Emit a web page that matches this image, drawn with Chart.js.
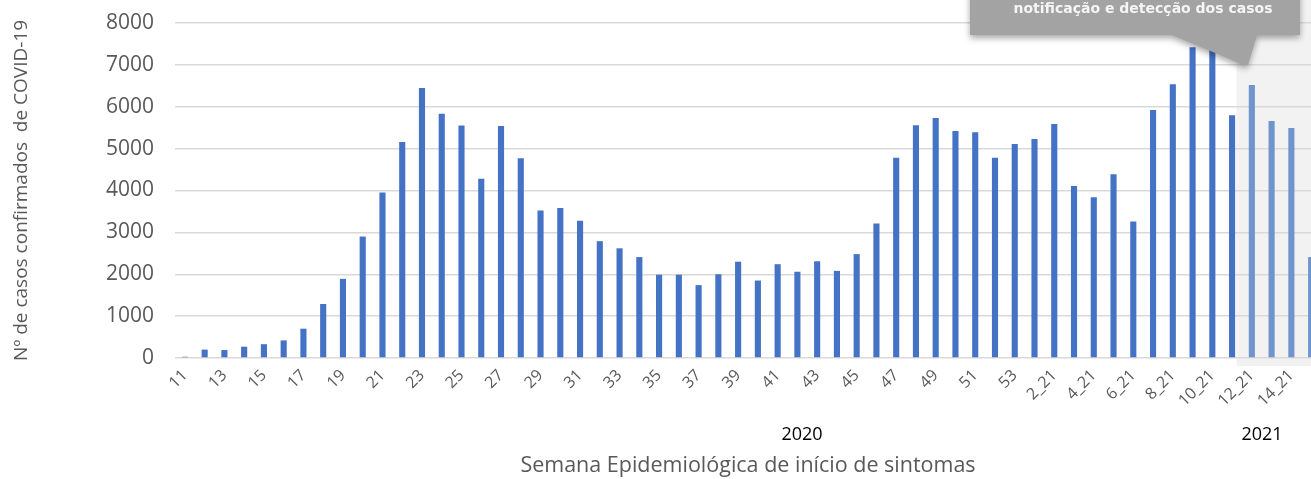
<!DOCTYPE html>
<html>
<head>
<meta charset="utf-8">
<script src="https://cdn.jsdelivr.net/npm/chart.js@4"></script>
<style>
  html, body { margin: 0; padding: 0; background: #fff; overflow: hidden; }
  #wrap { width: 1321px; height: 479px; position: relative; }
</style>
</head>
<body>
<div id="wrap"><canvas id="chart"></canvas></div>
<script>
// epidemiological weeks and confirmed cases
const weeks2020 = ['11','12','13','14','15','16','17','18','19','20','21','22','23','24','25','26','27','28','29','30','31','32','33','34','35','36','37','38','39','40','41','42','43','44','45','46','47','48','49','50','51','52','53'];
const cases2020 = [30, 200, 190, 270, 330, 420, 700, 1290, 1890, 2900, 3950, 5160, 6450, 5830, 5550, 4280, 5540, 4770, 3520, 3580, 3280, 2790, 2620, 2410, 1990, 1990, 1740, 2000, 2300, 1850, 2240, 2060, 2310, 2080, 2480, 3210, 4780, 5560, 5730, 5420, 5390, 4780, 5110];
const weeks2021 = ['1_21','2_21','3_21','4_21','5_21','6_21','7_21','8_21','9_21','10_21','11_21','12_21','13_21','14_21','15_21'];
const cases2021 = [5230, 5590, 4110, 3840, 4390, 3260, 5920, 6540, 7420, 7420, 5800, 6520, 5660, 5490, 2410];
const incompleteFrom = '12_21';
const yearLabels = ['2020', '2021'];
const calloutText = 'notificação e detecção dos casos';

const labels = weeks2020.concat(weeks2021);
const values = cases2020.concat(cases2021);
const cut = labels.indexOf(incompleteFrom);
const barColors = labels.map((l, i) => i >= cut ? '#7094cc' : '#4472c4');

const shadePlugin = {
  id: 'shade',
  beforeDraw(chart) {
    const { ctx, chartArea } = chart;
    const x = chart.scales.x;
    const step = x.getPixelForValue(1) - x.getPixelForValue(0);
    const left = x.getPixelForValue(cut) - step * 0.78;
    ctx.save();
    ctx.fillStyle = '#f2f2f2';
    ctx.fillRect(left, 0, chart.width - left, chartArea.bottom + 8);
    ctx.restore();
  }
};

const notesPlugin = {
  id: 'notes',
  afterDraw(chart) {
    const { ctx } = chart;
    const x = chart.scales.x;
    const y = chart.scales.y;
    const step = x.getPixelForValue(1) - x.getPixelForValue(0);
    const tipX = x.getPixelForValue(cut) - step * 0.4;
    const tipY = y.getPixelForValue(7000);

    // callout box with pointer
    ctx.save();
    ctx.shadowColor = 'rgba(0,0,0,0.35)';
    ctx.shadowBlur = 6;
    ctx.shadowOffsetY = 3;
    ctx.fillStyle = '#a3a3a3';
    ctx.beginPath();
    ctx.moveTo(970, -10);
    ctx.lineTo(1300, -10);
    ctx.lineTo(1300, 35);
    ctx.lineTo(tipX + 13, 35);
    ctx.lineTo(tipX + 4, tipY);
    ctx.lineTo(tipX, tipY);
    ctx.lineTo(tipX - 72, 35);
    ctx.lineTo(970, 35);
    ctx.closePath();
    ctx.fill();
    ctx.restore();

    ctx.save();
    ctx.fillStyle = '#f5f5f5';
    ctx.font = 'bold 14px "DejaVu Sans"';
    ctx.textAlign = 'center';
    ctx.textBaseline = 'alphabetic';
    ctx.fillText(calloutText, 1143, 13);

    // year labels under the week ticks
    ctx.fillStyle = '#000';
    ctx.font = '18px "Open Sans"';
    ctx.textBaseline = 'middle';
    ctx.fillText(yearLabels[0], 802, 435);
    ctx.fillText(yearLabels[1], 1262, 435);
    ctx.restore();
  }
};

new Chart(document.getElementById('chart'), {
  type: 'bar',
  data: {
    labels: labels,
    datasets: [{
      data: values,
      backgroundColor: barColors,
      barPercentage: 0.31,
      categoryPercentage: 1.0
    }]
  },
  options: {
    responsive: true,
    maintainAspectRatio: false,
    animation: false,
    layout: { padding: { top: 23, left: 0, right: 0, bottom: 0 } },
    plugins: {
      legend: { display: false },
      tooltip: { enabled: false }
    },
    scales: {
      x: {
        grid: { display: false },
        border: { display: false },
        afterFit(scale) {
          scale.height = 121;
          scale.paddingLeft = 0;
          scale.paddingRight = 0;
        },
        ticks: {
          autoSkip: false,
          maxRotation: 45,
          minRotation: 45,
          padding: 0,
          color: '#595959',
          font: { family: 'Open Sans', size: 16 },
          callback(value, index) { return index % 2 === 0 ? labels[index] : ''; }
        },
        title: {
          display: true,
          text: 'Semana Epidemiológica de início de sintomas',
          color: '#595959',
          font: { family: 'Open Sans', size: 21.5 },
          padding: { top: 0, bottom: 0 }
        }
      },
      y: {
        min: 0,
        max: 8000,
        afterFit(scale) {
          scale.width = 175;
          scale.paddingTop = 0;
          scale.paddingBottom = 0;
        },
        grid: { color: '#d9d9d9', lineWidth: 1.5, drawTicks: false },
        border: { display: false },
        ticks: {
          stepSize: 1000,
          padding: 21,
          color: '#595959',
          font: { family: 'Open Sans', size: 21 },
          callback(value) { return String(value); }
        },
        title: {
          display: true,
          text: 'Nº de casos confirmados  de COVID-19',
          color: '#595959',
          font: { family: 'Open Sans', size: 19 },
          padding: { top: 10, bottom: 0 }
        }
      }
    }
  },
  plugins: [shadePlugin, notesPlugin]
});
</script>
</body>
</html>
